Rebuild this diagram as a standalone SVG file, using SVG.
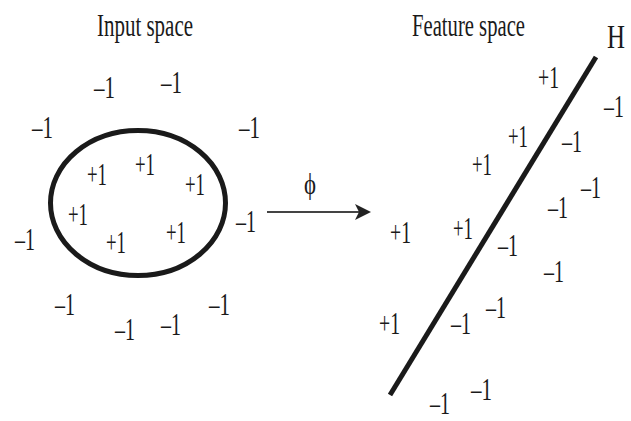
<svg xmlns="http://www.w3.org/2000/svg" width="631" height="421" viewBox="0 0 631 421">
<style>
text{font-family:"Liberation Serif","Times New Roman",serif;fill:#1a1a1a}
.v{font-size:31px}
.t{font-size:32px}
</style>
<defs>
<marker id="ah" markerWidth="16" markerHeight="16" refX="14" refY="8" orient="auto" markerUnits="userSpaceOnUse">
<path d="M0,0 L16,8 L0,16 L4,8 Z" fill="#222"/>
</marker>
</defs>
<rect width="631" height="421" fill="#fff"/>
<g id="title-input"><text class="t" x="97" y="36" textLength="96" lengthAdjust="spacingAndGlyphs">Input space</text></g>
<g id="title-feature"><text class="t" x="412" y="36" textLength="113" lengthAdjust="spacingAndGlyphs">Feature space</text></g>
<g id="ellipse"><ellipse cx="138" cy="203" rx="87.5" ry="72.5" fill="none" stroke="#1a1a1a" stroke-width="5"/></g>
<g id="hyperplane"><line x1="596" y1="57" x2="390" y2="395" stroke="#1a1a1a" stroke-width="5"/><text x="607" y="48" font-size="34" textLength="18" lengthAdjust="spacingAndGlyphs">H</text></g>
<g id="connectors"><line x1="267" y1="212" x2="369" y2="212" stroke="#444" stroke-width="2" marker-end="url(#ah)"/></g>
<g id="phi"><text x="304" y="194" font-size="30" textLength="12" lengthAdjust="spacingAndGlyphs">ϕ</text></g>
<g id="input-labels" class="v">
<text class="v" x="94" y="98" textLength="21" lengthAdjust="spacingAndGlyphs">–1</text>
<text class="v" x="161" y="93" textLength="21" lengthAdjust="spacingAndGlyphs">–1</text>
<text class="v" x="32" y="138" textLength="21" lengthAdjust="spacingAndGlyphs">–1</text>
<text class="v" x="239" y="138" textLength="21" lengthAdjust="spacingAndGlyphs">–1</text>
<text class="v" x="87" y="185" textLength="20" lengthAdjust="spacingAndGlyphs">+1</text>
<text class="v" x="135" y="175" textLength="20" lengthAdjust="spacingAndGlyphs">+1</text>
<text class="v" x="185" y="195" textLength="20" lengthAdjust="spacingAndGlyphs">+1</text>
<text class="v" x="68" y="225" textLength="20" lengthAdjust="spacingAndGlyphs">+1</text>
<text class="v" x="15" y="250" textLength="20" lengthAdjust="spacingAndGlyphs">–1</text>
<text class="v" x="106" y="253" textLength="20" lengthAdjust="spacingAndGlyphs">+1</text>
<text class="v" x="166" y="243" textLength="20" lengthAdjust="spacingAndGlyphs">+1</text>
<text class="v" x="236" y="232" textLength="20" lengthAdjust="spacingAndGlyphs">–1</text>
<text class="v" x="55" y="315" textLength="20" lengthAdjust="spacingAndGlyphs">–1</text>
<text class="v" x="115" y="340" textLength="20" lengthAdjust="spacingAndGlyphs">–1</text>
<text class="v" x="161" y="335" textLength="20" lengthAdjust="spacingAndGlyphs">–1</text>
<text class="v" x="209" y="315" textLength="21" lengthAdjust="spacingAndGlyphs">–1</text>
</g>
<g id="feature-labels" class="v">
<text class="v" x="538" y="88" textLength="21" lengthAdjust="spacingAndGlyphs">+1</text>
<text class="v" transform="translate(604,117) scale(0.64,1)">–1</text>
<text class="v" x="508" y="147" textLength="20" lengthAdjust="spacingAndGlyphs">+1</text>
<text class="v" x="562" y="152" textLength="20" lengthAdjust="spacingAndGlyphs">–1</text>
<text class="v" x="472" y="175" textLength="20" lengthAdjust="spacingAndGlyphs">+1</text>
<text class="v" x="581" y="198" textLength="20" lengthAdjust="spacingAndGlyphs">–1</text>
<text class="v" x="548" y="218" textLength="20" lengthAdjust="spacingAndGlyphs">–1</text>
<text class="v" x="390" y="243" textLength="21" lengthAdjust="spacingAndGlyphs">+1</text>
<text class="v" x="453" y="239" textLength="20" lengthAdjust="spacingAndGlyphs">+1</text>
<text class="v" x="498" y="256" textLength="20" lengthAdjust="spacingAndGlyphs">–1</text>
<text class="v" x="544" y="282" textLength="20" lengthAdjust="spacingAndGlyphs">–1</text>
<text class="v" x="379" y="334" textLength="21" lengthAdjust="spacingAndGlyphs">+1</text>
<text class="v" x="451" y="334" textLength="20" lengthAdjust="spacingAndGlyphs">–1</text>
<text class="v" x="486" y="318" textLength="20" lengthAdjust="spacingAndGlyphs">–1</text>
<text class="v" x="471" y="400" textLength="21" lengthAdjust="spacingAndGlyphs">–1</text>
<text class="v" x="430" y="414" textLength="20" lengthAdjust="spacingAndGlyphs">–1</text>
</g>
</svg>
